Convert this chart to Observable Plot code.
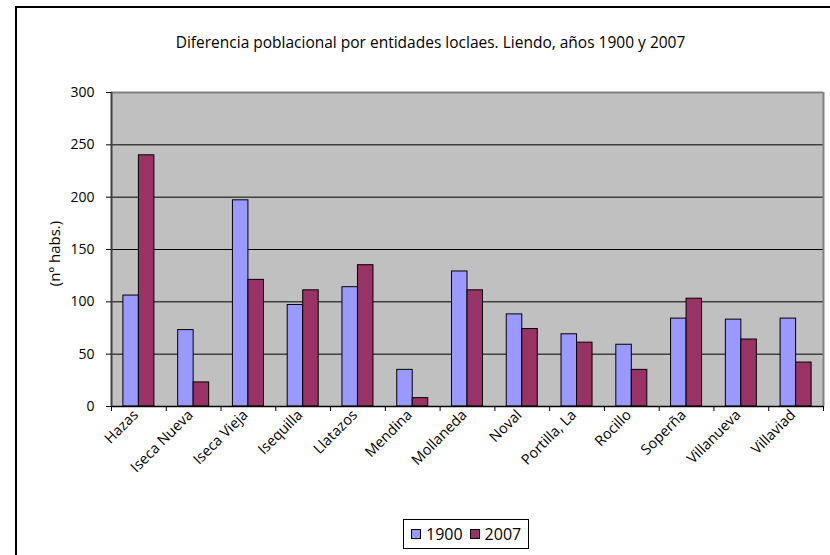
<!DOCTYPE html>
<html>
<head>
<meta charset="utf-8">
<script src="https://cdn.jsdelivr.net/npm/d3@7"></script>
<script src="https://cdn.jsdelivr.net/npm/@observablehq/plot@0.6"></script>
<style>
  html, body { margin: 0; padding: 0; background: #fff; }
  #wrap { position: relative; width: 830px; height: 555px; overflow: hidden; font-family: "Open Sans", sans-serif; }
  #border { position: absolute; left: 15px; top: 6px; width: 900px; height: 700px; border-left: 2px solid #000; border-top: 2px solid #000; }
  #legend { position: absolute; left: 403px; top: 519px; width: 124px; height: 28px; border: 1px solid #000; background: #fff;
            display: flex; align-items: center; font-size: 16px; color: #000; font-family: "Open Sans", sans-serif; }
  .sw { display: inline-block; width: 8px; height: 8px; border: 1px solid #000; margin: 0 5px 0 7px; }
  svg { position: absolute; left: 0; top: 0; }
</style>
</head>
<body>
<div id="wrap">
  <div id="border"></div>
  <div id="chart"></div>
  <div id="legend"></div>
</div>
<script>
const places = ["Hazas", "Iseca Nueva", "Iseca Vieja", "Isequilla", "Llatazos", "Mendina", "Mollaneda", "Noval", "Portilla, La", "Rocillo", "Soperña", "Villanueva", "Villaviad"];
const pop1900 = [106, 73, 197, 97, 114, 35, 129, 88, 69, 59, 84, 83, 84];
const pop2007 = [240, 23, 121, 111, 135, 8, 111, 74, 61, 35, 103, 64, 42];
const years = ["1900", "2007"];
const colors = ["#9999ff", "#993366"];
const yTicks = [0, 50, 100, 150, 200, 250, 300];
const title = "Diferencia poblacional por entidades loclaes. Liendo, años 1900 y 2007";
const yLabel = "(nº habs.)";

const d1900 = places.map((p, i) => ({place: p, value: pop1900[i]}));
const d2007 = places.map((p, i) => ({place: p, value: pop2007[i]}));

const W = 830, H = 555, mL = 111, mR = 7, mT = 92, mB = 149;
const bw = (W - mL - mR) / places.length;
const half = bw / 2;
const barW = 15.5;

const chart = Plot.plot({
  width: W, height: H,
  marginLeft: mL, marginRight: mR, marginTop: mT, marginBottom: mB,
  style: {fontFamily: "Open Sans, sans-serif", fontSize: "14px", color: "#000", background: "transparent"},
  x: {type: "band", domain: places, padding: 0, round: false, label: null},
  y: {domain: [0, 300], label: null},
  marks: [
    Plot.frame({fill: "#c0c0c0"}),
    Plot.ruleY(yTicks.filter(t => t > 0 && t < 300), {stroke: "#000", strokeWidth: 1}),
    Plot.ruleY([300], {stroke: "#808080", strokeWidth: 2}),
    Plot.ruleX([places[places.length - 1]], {x: d => d, dx: half, stroke: "#808080", strokeWidth: 2}),
    Plot.barY(d1900, {x: "place", y: "value", fill: colors[0], stroke: "#000", strokeWidth: 1, insetLeft: half - barW, insetRight: half}),
    Plot.barY(d2007, {x: "place", y: "value", fill: colors[1], stroke: "#000", strokeWidth: 1, insetLeft: half, insetRight: half - barW}),
    Plot.ruleX([places[0]], {x: d => d, dx: -half, stroke: "#404040", strokeWidth: 2}),
    Plot.ruleY([0], {stroke: "#000", strokeWidth: 1.5}),
    Plot.axisY({ticks: yTicks, tickSize: 5, tickPadding: 12, fontSize: 14, label: null, stroke: "#000"}),
    Plot.axisX({tickSize: 5, dx: -half, text: null, label: null}),
    Plot.axisX({ticks: [places[places.length - 1]], tickSize: 5, dx: half, text: null, label: null}),
    Plot.axisX({tickSize: 0, tickRotate: -45, tickPadding: 6, dx: -3, fontSize: 14.5, label: null}),
    Plot.text([title], {frameAnchor: "top", dx: -37, dy: -56, fontSize: 15.5}),
    Plot.text([yLabel], {frameAnchor: "left", textAnchor: "middle", rotate: -90, dx: -56, dy: 4, fontSize: 15})
  ]
});
document.getElementById("chart").appendChild(chart);

const legend = document.getElementById("legend");
years.forEach((y, i) => {
  const s = document.createElement("span");
  s.className = "sw";
  s.style.background = colors[i];
  legend.appendChild(s);
  const t = document.createElement("span");
  t.textContent = y;
  legend.appendChild(t);
});
</script>
</body>
</html>
